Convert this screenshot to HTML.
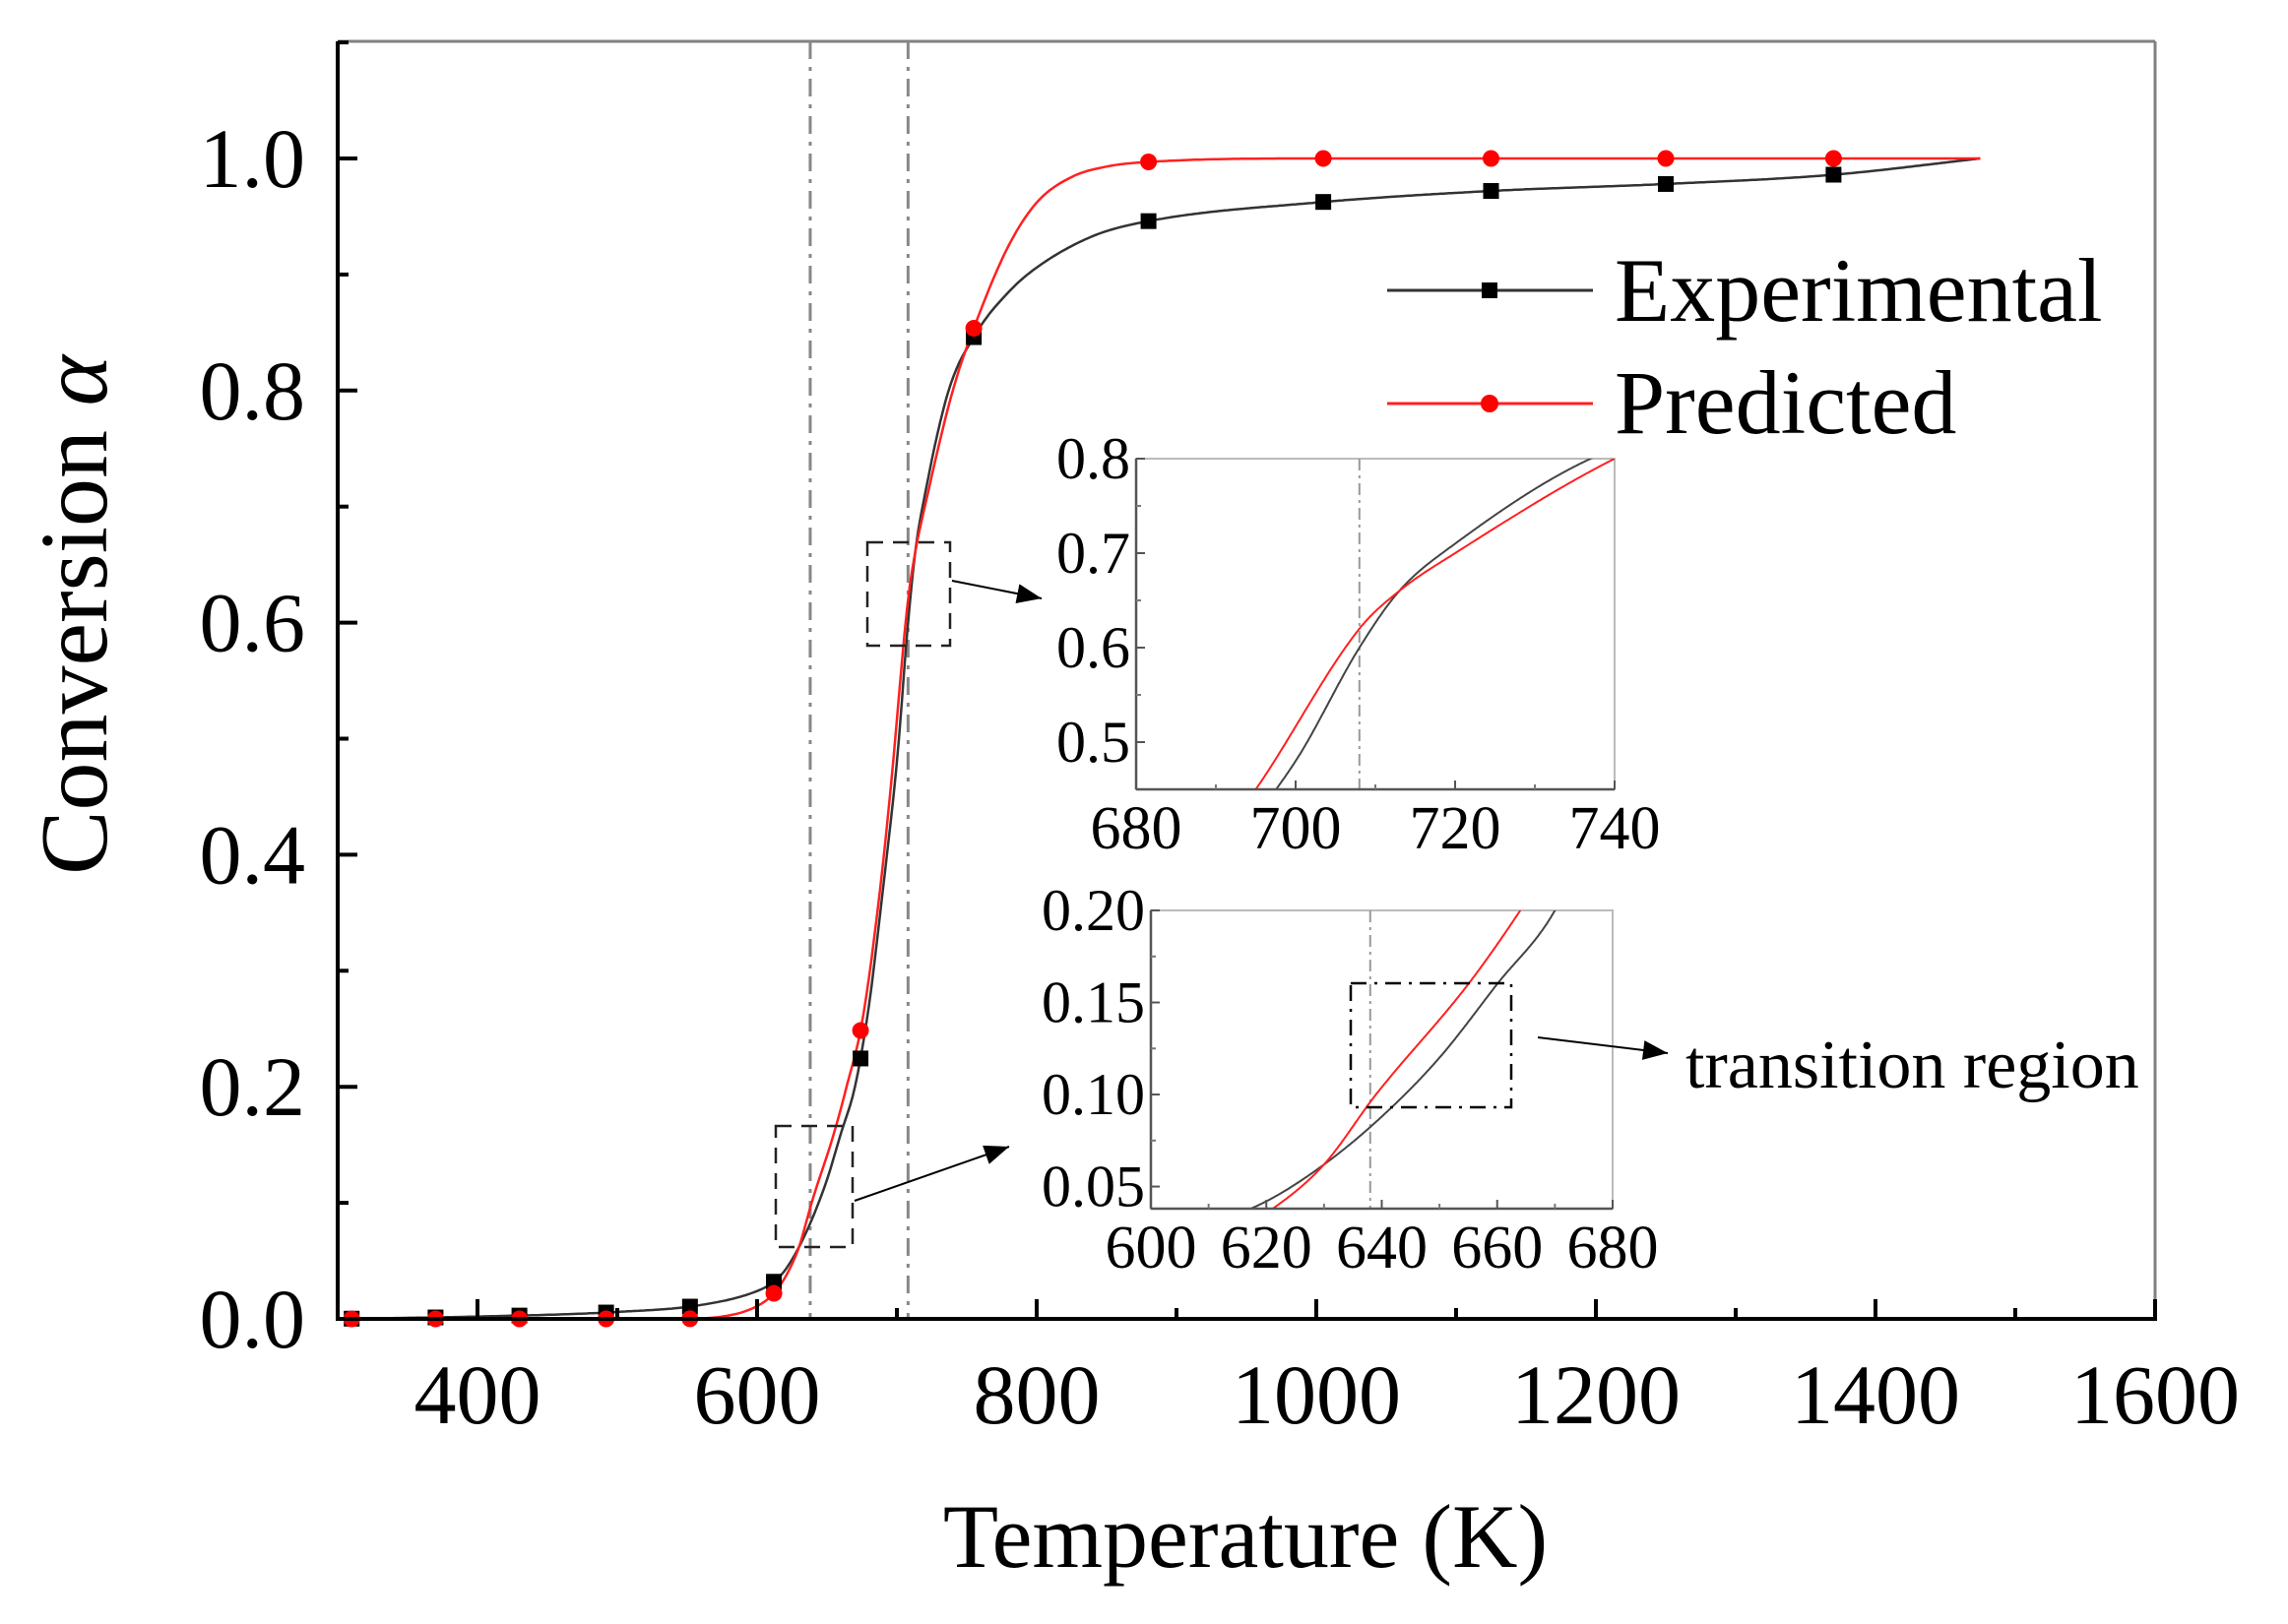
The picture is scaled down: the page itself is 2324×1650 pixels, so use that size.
<!DOCTYPE html>
<html><head><meta charset="utf-8"><style>
html,body{margin:0;padding:0;background:#fff;}
svg text{font-family:"Liberation Serif","DejaVu Serif",serif;fill:#000;}
</style></head><body>
<svg id="s" width="2324" height="1645" viewBox="0 0 2324 1645" xmlns="http://www.w3.org/2000/svg">
<rect width="2324" height="1645" fill="#fff"/>
<g id="main"></g>
<text x="0" y="0" font-size="98" text-anchor="middle" transform="translate(108,625) rotate(-90)">Conversion <tspan font-style="italic">α</tspan></text>
<text x="1265" y="1592" font-size="92" text-anchor="middle">Temperature (K)</text>
<text x="1640" y="326" font-size="92">Experimental</text>
<text x="1640" y="440" font-size="92">Predicted</text>
<text x="1712" y="1105" font-size="70">transition region</text>
</svg>
<script>
const NS="http://www.w3.org/2000/svg";
const g=document.getElementById('main');
function el(t,a,p){const e=document.createElementNS(NS,t);for(const k in a)e.setAttribute(k,a[k]);(p||g).appendChild(e);return e;}
function interp(pts){
 const n=pts.length,xs=pts.map(p=>p[0]),ys=pts.map(p=>p[1]);const d=[],m=[];
 for(let i=0;i<n-1;i++)d.push((ys[i+1]-ys[i])/(xs[i+1]-xs[i]));
 m[0]=d[0];m[n-1]=d[n-2];
 for(let i=1;i<n-1;i++){if(d[i-1]*d[i]<=0)m[i]=0;else{m[i]=(d[i-1]+d[i])/2;const a=m[i]/d[i-1],b=m[i]/d[i];if(a>3||b>3){m[i]=Math.min(3*d[i-1],3*d[i]);}}}
 return function(x){let i=0;while(i<n-2&&x>xs[i+1])i++;const h=xs[i+1]-xs[i],t=(x-xs[i])/h;
  const h00=2*t*t*t-3*t*t+1,h10=t*t*t-2*t*t+t,h01=-2*t*t*t+3*t*t,h11=t*t*t-t*t;
  return h00*ys[i]+h10*h*m[i]+h01*ys[i+1]+h11*h*m[i+1];};
}
const exp=interp([[300,0],[400,0.002],[500,0.006],[560,0.012],[600,0.024],[612,0.032],[620,0.042],[630,0.062],[640,0.088],[650,0.12],[660,0.16],[670,0.2],[680,0.27],[690,0.37],[700,0.48],[708,0.6],[713,0.66],[720,0.71],[737,0.8],[757,0.85],[780,0.885],[800,0.906],[840,0.933],[880,0.946],[1000,0.962],[1125,0.972],[1250,0.978],[1370,0.986],[1475,1.0]]);
const pre=interp([[300,0],[540,0],[575,0.002],[600,0.011],[612,0.022],[622,0.04],[630,0.062],[639,0.1],[655,0.16],[664,0.2],[675,0.255],[686,0.35],[695,0.45],[708,0.62],[713,0.66],[720,0.70],[740,0.80],[757,0.86],[780,0.925],[800,0.962],[825,0.984],[850,0.993],[880,0.997],[1000,1],[1475,1]]);
const X=T=>343+(T-300)*1.42, Y=a=>1340-1179*a;
function curve(f,t0,t1,xf,yf,col,w,clip){let d='';for(let T=t0;T<=t1+1e-9;T+=(t1-t0)/600){d+=(d?'L':'M')+xf(T).toFixed(1)+','+yf(f(T)).toFixed(1);}
 const a={d:d,fill:'none',stroke:col,'stroke-width':w};if(clip)a['clip-path']=clip;el('path',a);}
el('line',{x1:343,y1:42,x2:2189,y2:42,stroke:'#808080','stroke-width':3});
el('line',{x1:2189,y1:42,x2:2189,y2:1340,stroke:'#808080','stroke-width':3});
[638,708].forEach(T=>el('line',{x1:X(T),y1:42,x2:X(T),y2:1340,stroke:'#888','stroke-width':3,'stroke-dasharray':'18,8,4,8'}));
curve(exp,300,1475,X,Y,'#333',2.5);
curve(pre,300,1475,X,Y,'#ff2020',2.5);
const mT=[310,370,430,492,552,612,674,755,880,1005,1125,1250,1370];
mT.forEach(T=>el('rect',{x:X(T)-8,y:Y(exp(T))-8,width:16,height:16,fill:'#000'}));
mT.forEach(T=>el('circle',{cx:X(T),cy:Y(pre(T)),r:8.5,fill:'#ff0000'}));
el('line',{x1:343,y1:42,x2:343,y2:1342,stroke:'#000','stroke-width':4});
el('line',{x1:341,y1:1340,x2:2191,y2:1340,stroke:'#000','stroke-width':4});
for(let T=300;T<=1600;T+=100){const maj=T%200==0;el('line',{x1:X(T),y1:1340,x2:X(T),y2:1340-(maj?20:11),stroke:'#000','stroke-width':4});
 if(maj&&T>=400){const t=el('text',{x:X(T),y:1446,'font-size':86,'text-anchor':'middle'});t.textContent=T;}}
for(let i=0;i<=11;i++){const a=i/10;const maj=i%2==0;el('line',{x1:343,y1:Y(a),x2:343+(maj?20:11),y2:Y(a),stroke:'#000','stroke-width':4});
 if(maj){const t=el('text',{x:310,y:Y(a)+29,'font-size':86,'text-anchor':'end'});t.textContent=a.toFixed(1);}}
el('line',{x1:1409,y1:295,x2:1618,y2:295,stroke:'#333','stroke-width':3});
el('rect',{x:1505,y:287,width:16,height:16,fill:'#000'});
el('line',{x1:1409,y1:410,x2:1618,y2:410,stroke:'#ff2020','stroke-width':3});
el('circle',{cx:1513,cy:410,r:9,fill:'#ff0000'});
el('rect',{x:881,y:551,width:84,height:105,fill:'none',stroke:'#222','stroke-width':2.5,'stroke-dasharray':'16,10'});
el('rect',{x:788,y:1144,width:78,height:123,fill:'none',stroke:'#222','stroke-width':2.5,'stroke-dasharray':'16,10'});
el('defs',{}).innerHTML='<marker id="ah" viewBox="0 0 10 8" refX="10" refY="4" markerWidth="40" markerHeight="20" markerUnits="userSpaceOnUse" orient="auto"><path d="M0,0L10,4L0,8z" fill="#000"/></marker>';
el('line',{x1:967,y1:590,x2:1058,y2:608,stroke:'#000','stroke-width':2,'marker-end':'url(#ah)'});
el('line',{x1:868,y1:1220,x2:1025,y2:1165,stroke:'#000','stroke-width':2,'marker-end':'url(#ah)'});
function inset(id,L,R,Tp,B,x0,x1,y0,y1,xt,xminor,yt,ymin,fmt,vT){
 const xf=T=>L+(T-x0)/(x1-x0)*(R-L), yf=a=>B-(a-y0)/(y1-y0)*(B-Tp);
 el('rect',{x:L,y:Tp,width:R-L,height:B-Tp,fill:'#fff',stroke:'#bbb','stroke-width':2});
 const c=el('clipPath',{id:id});el('rect',{x:L,y:Tp,width:R-L,height:B-Tp},c);
 el('line',{x1:xf(vT),y1:Tp,x2:xf(vT),y2:B,stroke:'#999','stroke-width':2,'stroke-dasharray':'12,5,3,5'});
 curve(exp,x0,x1,xf,yf,'#444',2,'url(#'+id+')');
 curve(pre,x0,x1,xf,yf,'#ff2020',2,'url(#'+id+')');
 el('line',{x1:L,y1:Tp,x2:L,y2:B,stroke:'#555','stroke-width':2.5});
 el('line',{x1:L,y1:B,x2:R,y2:B,stroke:'#555','stroke-width':2.5});
 xminor.forEach(T=>el('line',{x1:xf(T),y1:B,x2:xf(T),y2:B-5,stroke:'#777','stroke-width':2}));
 xt.forEach(T=>{el('line',{x1:xf(T),y1:B,x2:xf(T),y2:B-9,stroke:'#555','stroke-width':2});const t=el('text',{x:xf(T),y:B+60,'font-size':62,'text-anchor':'middle'});t.textContent=T;});
 ymin.forEach(a=>el('line',{x1:L,y1:yf(a),x2:L+5,y2:yf(a),stroke:'#777','stroke-width':2}));
 yt.forEach(a=>{el('line',{x1:L,y1:yf(a),x2:L+9,y2:yf(a),stroke:'#555','stroke-width':2});const t=el('text',{x:L-6,y:yf(a)+20,'font-size':60,'text-anchor':'end'});t.textContent=a.toFixed(fmt);});
}
inset('c1',1154,1640,466,802,680,740,0.45,0.8,[680,700,720,740],[690,710,730],[0.5,0.6,0.7,0.8],[0.55,0.65,0.75],1,708);
inset('c2',1169,1638,925,1228,600,680,0.038,0.2,[600,620,640,660,680],[610,630,650,670],[0.05,0.10,0.15,0.20],[0.075,0.125,0.175],2,638);
el('rect',{x:1372,y:999,width:163,height:126,fill:'none',stroke:'#000','stroke-width':2.5,'stroke-dasharray':'16,8,3,8'});
el('line',{x1:1562,y1:1054,x2:1694,y2:1070,stroke:'#000','stroke-width':2,'marker-end':'url(#ah)'});
</script>
</body></html>
